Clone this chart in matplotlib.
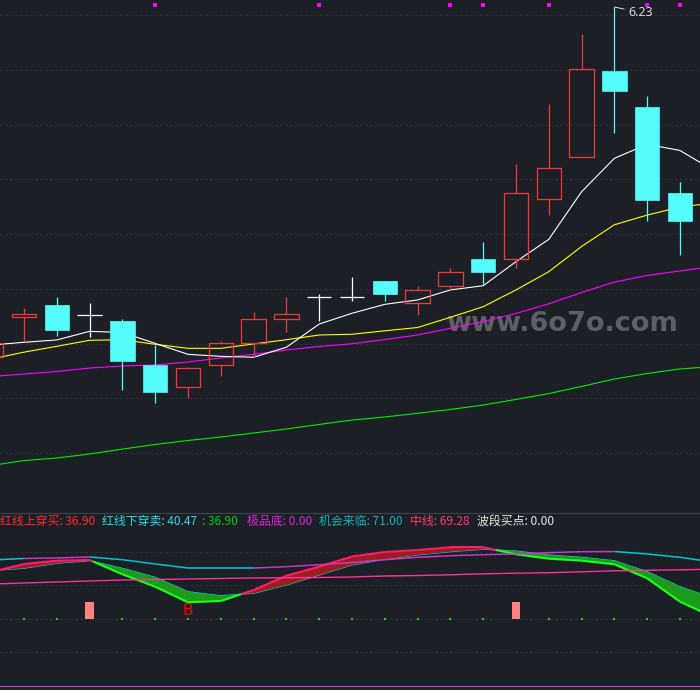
import matplotlib
matplotlib.use('Agg')
import matplotlib.pyplot as plt
from matplotlib.patches import Rectangle
from matplotlib.lines import Line2D
import numpy as np

plt.rcParams['font.family'] = ['Noto Sans CJK SC', 'DejaVu Sans']

# ---------------- data ----------------
opens = [4.31, 4.53, 4.60, 4.54, 4.51, 4.27, 4.15, 4.27, 4.39, 4.52, 4.64, 4.64,
         4.73, 4.61, 4.70, 4.85, 4.85, 5.18, 5.41, 5.88, 5.68, 5.21]
closes = [4.39, 4.55, 4.46, 4.54, 4.29, 4.12, 4.25, 4.39, 4.52, 4.55, 4.64, 4.64,
          4.66, 4.68, 4.78, 4.78, 5.21, 5.35, 5.89, 5.77, 5.17, 5.06]
highs = [4.40, 4.58, 4.64, 4.61, 4.52, 4.38, 4.26, 4.40, 4.56, 4.64, 4.66, 4.75,
         4.73, 4.70, 4.80, 4.94, 5.37, 5.70, 6.08, 6.23, 5.74, 5.27]
lows = [4.30, 4.40, 4.43, 4.42, 4.13, 4.06, 4.09, 4.21, 4.31, 4.45, 4.51, 4.62,
        4.62, 4.54, 4.68, 4.71, 4.80, 5.09, 5.41, 5.54, 5.06, 4.87]

ma_white = [4.378, 4.393, 4.406, 4.453, 4.447, 4.387, 4.327, 4.316, 4.311, 4.366, 4.493, 4.552,
            4.601, 4.625, 4.680, 4.703, 4.835, 4.957, 5.218, 5.401, 5.478, 5.444, 5.337]
ma_yellow = [4.301, 4.339, 4.371, 4.404, 4.407, 4.382, 4.360, 4.360, 4.384, 4.407, 4.433, 4.437,
             4.456, 4.474, 4.530, 4.588, 4.680, 4.780, 4.918, 5.037, 5.090, 5.134, 5.156]
ma_magenta = [4.206, 4.219, 4.233, 4.252, 4.263, 4.269, 4.285, 4.307, 4.327, 4.351, 4.370, 4.385,
              4.408, 4.433, 4.470, 4.506, 4.551, 4.604, 4.666, 4.723, 4.759, 4.784, 4.808]
ma_green = [3.718, 3.745, 3.759, 3.781, 3.808, 3.833, 3.855, 3.874, 3.896, 3.918, 3.943, 3.967,
            3.984, 4.004, 4.025, 4.049, 4.080, 4.112, 4.151, 4.192, 4.222, 4.247, 4.260]

signal_idx = [5, 10, 14, 15, 17, 20, 21]
signal_level = 6.239
high_label = '6.23'
high_idx = 19

# lower indicator panel
line_a = [68.06, 72.84, 74.81, 75.22, 66.69, 59.28, 49.97, 50.75, 57.31, 65.85, 71.22, 77.31,
          80.00, 81.19, 82.81, 82.81, 78.63, 76.00, 74.81, 72.66, 64.30, 50.33, 41.19]
line_b = [68.96, 70.27, 73.25, 74.81, 70.27, 64.90, 56.30, 53.91, 55.34, 60.30, 66.27, 72.24,
          75.64, 78.21, 80.18, 81.61, 80.60, 78.21, 76.84, 74.81, 68.24, 59.28, 52.54]
top_line = [75.22, 76.12, 76.42, 77.01, 75.40, 72.84, 70.45, 70.45, 70.45, 71.22, 72.42, 73.73,
            75.40, 76.84, 77.79, 78.39, 78.81, 79.58, 80.18, 80.30, 78.81, 76.84, 74.03]
top_seg_up = [0, 1, 1, 0, 0, 0, 0, 0, 1, 1, 1, 1, 1, 1, 1, 1, 1, 1, 1, 0, 0, 0]
mid_line = [60.90, 61.49, 62.09, 62.69, 63.28, 63.58, 63.88, 64.18, 64.48, 64.66, 64.78, 65.07,
            65.67, 65.97, 66.39, 66.99, 67.34, 67.64, 68.18, 68.78, 69.07, 69.37, 69.73]
bottom_line = 0.0
buy_bar_idx = [3, 16]
buy_bar_low, buy_bar_high = 40, 50
dot_idx = [1, 2, 4, 5, 6, 7, 8, 9, 10, 11, 12, 13, 14, 15, 17, 18, 19, 20, 21]
b_idx, b_level = 6, 44.8

legend_items = [
    ('红线上穿买: 36.90', '#ff2a2a', 0),
    ('红线下穿卖: 40.47', '#22dde6', 102),
    (': 36.90', '#00d000', 202),
    ('极品底: 0.00', '#dd22dd', 247),
    ('机会来临: 71.00', '#10b4b4', 319),
    ('中线: 69.28', '#ff3878', 410),
    ('波段买点: 0.00', '#e8e8e8', 477),
]

# ---------------- style ----------------
BG = '#1c1f26'
GRID = '#30353e'
UP = '#f03a3a'
DN = '#54fcfc'

W, H = 700, 690
fig = plt.figure(figsize=(W / 100, H / 100), dpi=100, facecolor=BG)
ax1 = fig.add_axes([0, 178 / H, 1, 512 / H])
ax2 = fig.add_axes([0, 0, 1, 177 / H])
XL = (0.268, 21.61)
for ax in (ax1, ax2):
    ax.set_facecolor(BG)
    ax.set_xlim(*XL)
    for s in ax.spines.values():
        s.set_visible(False)
    ax.set_xticks([])
    ax.set_yticks([])
ax1.set_ylim(3.4632, 6.2684)
ax2.set_ylim(-2.39, 103.28)

# grids
for n in range(9):
    ax1.axhline(6.186 - 0.3 * n, color=GRID, lw=0.72, dashes=(2, 3), zorder=0)
for v in (20, 40, 60, 80):
    ax2.axhline(v, color=GRID, lw=0.72, dashes=(2, 3), zorder=0)

# watermark
ax1.text(17.40, 4.495, 'www.6o7o.com', color='#5e5f65', fontsize=19.5, fontweight='bold',
         family='DejaVu Sans', ha='center', va='center', zorder=1)

# moving averages
xm = np.arange(len(ma_white))
for vals, col in ((ma_green, '#00ee00'), (ma_magenta, '#ff00ff'),
                  (ma_yellow, '#ffff00'), (ma_white, '#ffffff')):
    ax1.plot(xm, vals, color=col, lw=0.8, zorder=2)

# candles
w = 0.74
lw = 0.9
for i in range(len(opens)):
    o, c, h, l = opens[i], closes[i], highs[i], lows[i]
    if c > o:
        ax1.vlines(i, c, h, color=UP, lw=lw, zorder=3)
        ax1.vlines(i, l, o, color=UP, lw=lw, zorder=3)
        ax1.add_patch(Rectangle((i - w / 2, o), w, c - o, facecolor='none',
                                edgecolor=UP, lw=lw, zorder=3))
    elif c < o:
        ax1.vlines(i, l, h, color=DN, lw=lw, zorder=3)
        ax1.add_patch(Rectangle((i - w / 2, c), w, o - c, facecolor=DN,
                                edgecolor=DN, lw=0.5, zorder=3))
    else:
        ax1.vlines(i, l, h, color='#ffffff', lw=lw, zorder=3)
        ax1.hlines(o, i - w / 2, i + w / 2, color='#ffffff', lw=lw, zorder=3)

# signal squares at top
ax1.scatter(signal_idx, [signal_level] * len(signal_idx), marker='s', s=4.7,
            color='#ff00ff', lw=0, zorder=5)

# high label
ax1.annotate(high_label, xy=(high_idx, highs[high_idx]), xytext=(10, -4),
             textcoords='offset points', ha='left', va='center', color='#dcdcdc',
             fontsize=9, family=['Noto Sans', 'DejaVu Sans'],
             arrowprops=dict(arrowstyle='-', color='#dcdcdc', lw=0.7,
                             shrinkA=1, shrinkB=0))

# ---------------- lower panel ----------------
xa = np.arange(len(line_a))
A = np.array(line_a)
B = np.array(line_b)
ax2.fill_between(xa, A, B, where=A >= B, interpolate=True, color='#9c1e1e', lw=0, zorder=2)
ax2.fill_between(xa, A, B, where=A < B, interpolate=True, color='#1b9a1b', lw=0, zorder=2)
ax2.plot(xa, B, color='#10d0e0', lw=0.8, zorder=1.5)

PINK = '#ff1a6e'
GRN = '#19ff19'
for i in range(len(A) - 1):
    d0, d1 = A[i] - B[i], A[i + 1] - B[i + 1]
    if (d0 >= 0) == (d1 >= 0):
        ax2.plot([i, i + 1], [A[i], A[i + 1]], color=PINK if d0 >= 0 else GRN,
                 lw=1.5, zorder=3, solid_capstyle='butt')
    else:
        t = d0 / (d0 - d1)
        xc, yc = i + t, A[i] + t * (A[i + 1] - A[i])
        ax2.plot([i, xc], [A[i], yc], color=PINK if d0 >= 0 else GRN, lw=1.5, zorder=3,
                 solid_capstyle='butt')
        ax2.plot([xc, i + 1], [yc, A[i + 1]], color=PINK if d1 >= 0 else GRN, lw=1.5,
                 zorder=3, solid_capstyle='butt')

for i in range(len(top_line) - 1):
    ax2.plot([i, i + 1], [top_line[i], top_line[i + 1]],
             color='#c838c8' if top_seg_up[i] else '#00c8d4', lw=1.1, zorder=3,
             solid_capstyle='butt')

ax2.plot(xa, mid_line, color='#ff3399', lw=1.0, zorder=3)
ax2.axhline(bottom_line, color='#c040c0', lw=0.9, zorder=3)
ax2.axhline(-2.1, color='#3b414b', lw=0.9, zorder=3)

ax2.bar(buy_bar_idx, buy_bar_high - buy_bar_low, bottom=buy_bar_low, width=0.27,
        color='#ff8080', zorder=3)
ax2.scatter(dot_idx, [buy_bar_low] * len(dot_idx), marker='s', s=0.8, color='#22cc22',
            lw=0, zorder=3)
ax2.text(b_idx, b_level, 'B', color='#ff0000', fontsize=11, ha='center', va='center',
         family='DejaVu Sans', zorder=4)

# separator
fig.add_artist(Line2D([0, 1], [1 - 512.5 / H] * 2, color='#3b414b', lw=0.9,
                      transform=fig.transFigure))

# legend texts
for s, col, xp in legend_items:
    fig.text(xp / W, 1 - 521.5 / H, s, color=col, fontsize=8.6, ha='left', va='center')

fig.savefig('out.png', dpi=100, facecolor=BG)
